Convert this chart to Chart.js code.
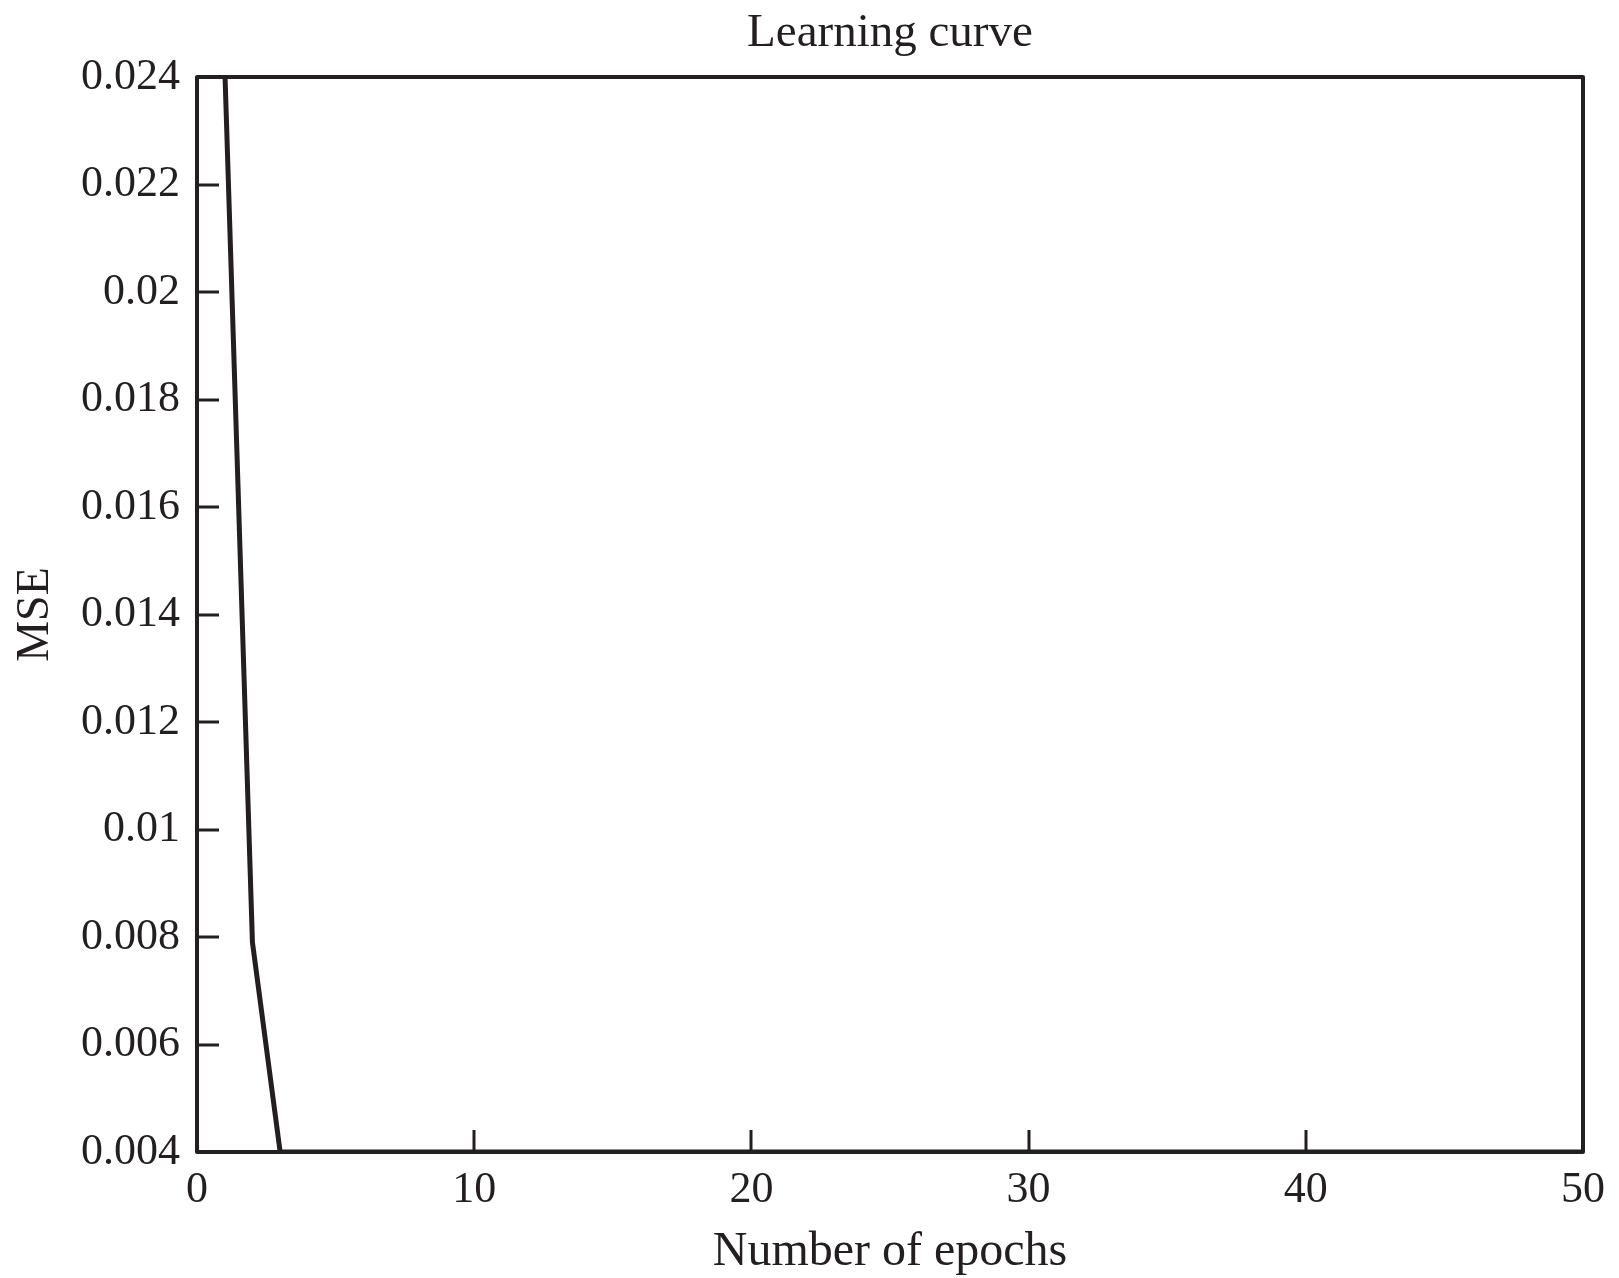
<!DOCTYPE html>
<html>
<head>
    <title>Learning curve</title>
    <script src="https://cdn.jsdelivr.net/npm/chart.js"></script>
    <style>
        body { margin: 0; background: #fff; }
    </style>
</head>
<body>
    <canvas id="learningChart" width="1619" height="1278"></canvas>
    <script>
        // Training error per epoch
        const epochs = [1, 2, 3, 4, 5, 6, 7, 8, 9, 10,
                        11, 12, 13, 14, 15, 16, 17, 18, 19, 20,
                        21, 22, 23, 24, 25, 26, 27, 28, 29, 30,
                        31, 32, 33, 34, 35, 36, 37, 38, 39, 40,
                        41, 42, 43, 44, 45, 46, 47, 48, 49, 50];
        const mse = [0.0242, 0.0079, 0.0040, 0.0040, 0.0040, 0.0040, 0.0040, 0.0040, 0.0040, 0.0040,
                     0.0040, 0.0040, 0.0040, 0.0040, 0.0040, 0.0040, 0.0040, 0.0040, 0.0040, 0.0040,
                     0.0040, 0.0040, 0.0040, 0.0040, 0.0040, 0.0040, 0.0040, 0.0040, 0.0040, 0.0040,
                     0.0040, 0.0040, 0.0040, 0.0040, 0.0040, 0.0040, 0.0040, 0.0040, 0.0040, 0.0040,
                     0.0040, 0.0040, 0.0040, 0.0040, 0.0040, 0.0040, 0.0040, 0.0040, 0.0040, 0.0040];

        const xRange = [0, 50];
        const xStep = 10;
        const yRange = [0.004, 0.024];
        const yStep = 0.002;

        const ink = '#231f20';
        const serif = '"Liberation Serif", "Times New Roman", serif';

        // box around the plot plus inward tick marks on left and bottom
        const framePlugin = {
            id: 'frame',
            afterDatasetsDraw(chart) {
                const { ctx, chartArea: a, scales } = chart;
                const tickLen = 22;
                ctx.save();
                ctx.strokeStyle = ink;
                ctx.lineWidth = 3;
                ctx.beginPath();
                scales.y.ticks.forEach(t => {
                    if (t.value <= yRange[0] || t.value >= yRange[1]) return;
                    const py = Math.round(scales.y.getPixelForValue(t.value));
                    ctx.moveTo(a.left, py);
                    ctx.lineTo(a.left + tickLen, py);
                });
                scales.x.ticks.forEach(t => {
                    if (t.value <= xRange[0] || t.value >= xRange[1]) return;
                    const px = Math.round(scales.x.getPixelForValue(t.value));
                    ctx.moveTo(px, a.bottom);
                    ctx.lineTo(px, a.bottom - tickLen);
                });
                ctx.stroke();
                ctx.lineWidth = 4;
                ctx.lineJoin = 'round';
                ctx.strokeRect(a.left, a.top, a.right - a.left, a.bottom - a.top);
                ctx.restore();
            }
        };

        new Chart(document.getElementById('learningChart').getContext('2d'), {
            type: 'line',
            data: {
                labels: epochs,
                datasets: [{
                    data: epochs.map((e, i) => ({ x: e, y: mse[i] })),
                    borderColor: ink,
                    borderWidth: 5,
                    pointRadius: 0,
                    tension: 0,
                    fill: false,
                }],
            },
            options: {
                responsive: false,
                animation: false,
                layout: { padding: { left: 0, right: 36, top: 0, bottom: 0 } },
                plugins: {
                    legend: { display: false },
                    tooltip: { enabled: false },
                },
                scales: {
                    x: {
                        type: 'linear',
                        position: 'bottom',
                        min: xRange[0],
                        max: xRange[1],
                        grid: { display: false },
                        border: { display: false },
                        ticks: {
                            stepSize: xStep,
                            color: ink,
                            padding: 4,
                            maxRotation: 0,
                            font: { family: serif, size: 44 },
                        },
                        title: {
                            display: true,
                            text: 'Number of epochs',
                            color: ink,
                            padding: { top: 0, bottom: 2 },
                            font: { family: serif, size: 48, lineHeight: 1.0 },
                        },
                        afterFit(scale) { scale.height = 126; },
                    },
                    xTop: {
                        type: 'linear',
                        position: 'top',
                        min: xRange[0],
                        max: xRange[1],
                        grid: { display: false },
                        border: { display: false },
                        ticks: { display: false },
                        title: {
                            display: true,
                            text: 'Learning curve',
                            color: ink,
                            padding: { top: 5, bottom: 0 },
                            font: { family: serif, size: 47 },
                        },
                        afterFit(scale) { scale.height = 77; },
                    },
                    y: {
                        type: 'linear',
                        min: yRange[0],
                        max: yRange[1],
                        grid: { display: false, drawTicks: false },
                        border: { display: false },
                        ticks: {
                            stepSize: yStep,
                            color: ink,
                            padding: 17,
                            font: { family: serif, size: 44 },
                            callback: v => String(parseFloat(v.toFixed(3))),
                        },
                        title: {
                            display: true,
                            text: 'MSE',
                            color: ink,
                            padding: { top: 8, bottom: 0 },
                            font: { family: serif, size: 46 },
                        },
                        afterFit(scale) { scale.width = 197; },
                    },
                },
            },
            plugins: [framePlugin],
        });
    </script>
</body>
</html>
